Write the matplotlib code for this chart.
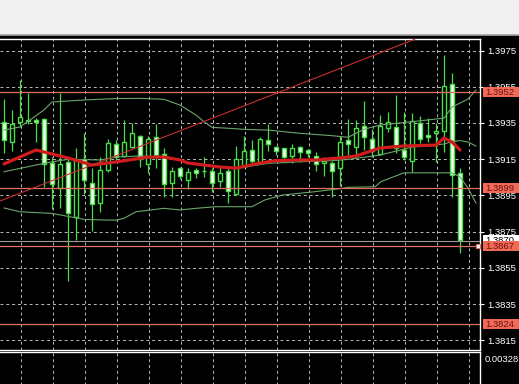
import matplotlib
matplotlib.use("Agg")
import matplotlib.pyplot as plt
import matplotlib.transforms as mtransforms
from matplotlib.patches import Rectangle
from matplotlib.lines import Line2D
import numpy as np

# candle data (oldest -> newest)
opens = [1.39357, 1.39247, 1.39354, 1.39366, 1.39364, 1.39372, 1.39131, 1.38989, 1.39135, 1.38833,
         1.39149, 1.39020, 1.38910, 1.39090, 1.39234, 1.39169, 1.39216, 1.39280, 1.39123, 1.39271,
         1.39179, 1.39020, 1.39100, 1.39035, 1.39090, 1.39086, 1.39086, 1.39031, 1.39085, 1.38958,
         1.39109, 1.39201, 1.39133, 1.39256, 1.39219, 1.39210, 1.39169, 1.39219, 1.39201, 1.39169,
         1.39127, 1.39131, 1.39100, 1.39256, 1.39216, 1.39333, 1.39260, 1.39179, 1.39321, 1.39329,
         1.39201, 1.39142, 1.39351, 1.39284, 1.39293, 1.39307, 1.39563, 1.39072]
highs = [1.39481, 1.39422, 1.39587, 1.39517, 1.39376, 1.39377, 1.39164, 1.39517, 1.39164, 1.39210,
         1.39293, 1.39100, 1.39160, 1.39260, 1.39256, 1.39366, 1.39348, 1.39284, 1.39278, 1.39343,
         1.39210, 1.39105, 1.39109, 1.39100, 1.39100, 1.39160, 1.39100, 1.39109, 1.39105, 1.39223,
         1.39280, 1.39256, 1.39271, 1.39344, 1.39223, 1.39212, 1.39232, 1.39223, 1.39204, 1.39191,
         1.39160, 1.39142, 1.39278, 1.39370, 1.39366, 1.39473, 1.39315, 1.39394, 1.39412, 1.39504,
         1.39412, 1.39403, 1.39388, 1.39379, 1.39348, 1.39725, 1.39624, 1.39100]
lows = [1.39183, 1.39197, 1.39326, 1.39344, 1.39243, 1.38998, 1.38873, 1.38879, 1.38478, 1.38704,
        1.38958, 1.38755, 1.38860, 1.39081, 1.39146, 1.39164, 1.39210, 1.39109, 1.39072, 1.39100,
        1.38940, 1.38940, 1.39039, 1.38984, 1.39045, 1.39050, 1.38971, 1.38998, 1.38910, 1.38952,
        1.39105, 1.39123, 1.39131, 1.39197, 1.39173, 1.39159, 1.39131, 1.39136, 1.39164, 1.39086,
        1.39059, 1.38940, 1.39002, 1.39173, 1.39155, 1.39201, 1.39160, 1.39173, 1.39302, 1.39183,
        1.39146, 1.39081, 1.39238, 1.39247, 1.39136, 1.39191, 1.38943, 1.38631]
closes = [1.39256, 1.39343, 1.39381, 1.39363, 1.39357, 1.39123, 1.39011, 1.39123, 1.38851, 1.39146,
          1.39035, 1.38903, 1.39090, 1.39241, 1.39160, 1.39247, 1.39293, 1.39151, 1.39261, 1.39173,
          1.39013, 1.39086, 1.39059, 1.39081, 1.39072, 1.39085, 1.39020, 1.39072, 1.38976, 1.39151,
          1.39195, 1.39142, 1.39261, 1.39232, 1.39197, 1.39160, 1.39213, 1.39191, 1.39183, 1.39123,
          1.39142, 1.39086, 1.39243, 1.39232, 1.39321, 1.39271, 1.39195, 1.39335, 1.39354, 1.39210,
          1.39160, 1.39362, 1.39260, 1.39271, 1.39307, 1.39554, 1.39063, 1.38704]

# moving average (thick red), read at bar indices
ma_bar = [0, 4, 8, 11, 14, 18, 20, 22, 23, 25, 27, 29, 32, 34, 37, 39, 42, 44, 47, 50, 54, 55, 56, 57]
ma_val = [1.39124, 1.39201, 1.39157, 1.39118, 1.39135, 1.39162, 1.39162, 1.39146, 1.39129, 1.39118,
          1.39107, 1.39101, 1.39129, 1.39142, 1.39146, 1.39146, 1.39157, 1.39168, 1.39212, 1.39223,
          1.39228, 1.39267, 1.39245, 1.39201]

# bollinger bands (thin green), read at bar indices
up_bar = [0, 2, 5, 6, 10, 14, 17, 20, 22, 24, 25, 26, 28, 30, 33, 37, 41, 43, 45, 47, 51, 55, 56, 57, 58, 59]
up_val = [1.39311, 1.39328, 1.39422, 1.39466, 1.39477, 1.39485, 1.39486, 1.39481, 1.39449, 1.39394,
          1.39357, 1.39326, 1.39321, 1.39315, 1.39311, 1.39293, 1.39280, 1.39271, 1.39315, 1.39339,
          1.39357, 1.39377, 1.39438, 1.39460, 1.39482, 1.39532]
mid_bar = [0, 4, 6, 8, 12, 14, 17, 20, 21, 24, 26, 28, 29, 33, 37, 41, 43, 47, 51, 55, 56, 57, 58, 59]
mid_val = [1.39081, 1.39118, 1.39136, 1.39149, 1.39146, 1.39162, 1.39168, 1.39162, 1.39155, 1.39124,
           1.39112, 1.39100, 1.39100, 1.39127, 1.39136, 1.39142, 1.39149, 1.39173, 1.39217, 1.39234,
           1.39248, 1.39253, 1.39245, 1.39223]
lo_bar = [0, 2, 6, 10, 13, 14, 15, 16.5, 20, 22, 24, 26.5, 29, 31, 32.6, 34.75, 38.9, 42.25, 43, 46.4,
          47.1, 50, 56, 57, 58, 59]
lo_val = [1.38881, 1.38860, 1.38851, 1.38818, 1.38814, 1.38814, 1.38824, 1.38860, 1.38879, 1.38870,
          1.38879, 1.38888, 1.38888, 1.38888, 1.38925, 1.38952, 1.38971, 1.38989, 1.38995, 1.38998,
          1.39026, 1.39075, 1.39075, 1.39053, 1.38991, 1.38908]

# trend line (thin red) anchors
trend_bar = [0, 50]
trend_val = [1.38928, 1.39789]

# horizontal levels and price scale
levels = [1.3952, 1.3899, 1.3867, 1.3824]
level_labels = ["1.3952", "1.3899", "1.3867", "1.3824"]
bid = 1.3870
bid_label = "1.3870"
price_ticks = [1.3975, 1.3955, 1.3935, 1.3915, 1.3895, 1.3875, 1.3855, 1.3835, 1.3815]
price_tick_labels = ["1.3975", "1.3955", "1.3935", "1.3915", "1.3895", "1.3875", "1.3855", "1.3835", "1.3815"]
sub_label = "0.00328"


def main() -> None:
    plt.rcParams["font.family"] = ["Liberation Sans", "DejaVu Sans"]
    W, H = 519, 384
    fig = plt.figure(figsize=(W / 100, H / 100), dpi=100, facecolor="black")

    # gray window strip on top
    fig.patches.append(Rectangle((0, 1 - 35 / H), 1, 35 / H, transform=fig.transFigure,
                                 facecolor="#f0f0f0", edgecolor="none", zorder=0))
    fig.lines.append(Line2D([0, 1], [1 - 35.3 / H] * 2, transform=fig.transFigure,
                            color="#a4a4a4", lw=1.2))

    right = 480 / W
    ax = fig.add_axes([0, 1 - 350 / H, right, (350 - 39.3) / H])
    sub = fig.add_axes([0, -0.02, right, 1 - 352.3 / H + 0.02])

    vgrid = np.arange(2.09, 59.5, 4)
    xlim = (-0.5, 59.5)
    grid_kw = dict(color="#bcbcbc", linestyle=(0, (3, 3)), linewidth=0.7)

    for a in (ax, sub):
        a.set_facecolor("black")
        a.set_xlim(*xlim)
        a.set_xticks(vgrid)
        a.tick_params(axis="x", length=0, labelbottom=False)
        a.spines["left"].set_visible(False)
        for s in ("top", "right", "bottom"):
            a.spines[s].set_color("white")
            a.spines[s].set_linewidth(1.0)
        a.set_axisbelow(True)
        a.grid(True, **grid_kw)

    sub.spines["bottom"].set_visible(False)
    sub.set_yticks([])
    sub.set_ylim(0, 1)

    ax.set_ylim(1.38097, 1.39812)
    ax.set_yticks(price_ticks)
    ax.set_yticklabels(price_tick_labels)
    ax.yaxis.tick_right()
    ax.tick_params(axis="y", colors="white", length=3, width=0.8, pad=2, labelsize=6.8)

    idx = np.arange(len(opens))
    o = np.array(opens)
    c = np.array(closes)
    bull = c >= o
    green = "#46e046"

    ax.vlines(idx, lows, highs, color=green, lw=0.9, zorder=2)
    ax.bar(idx, np.abs(c - o), bottom=np.minimum(o, c), width=0.62,
           color=np.where(bull, "black", "#f2fff2"), edgecolor=green, linewidth=1.0, zorder=3)

    band_col = "#6aa66a"
    ax.plot(up_bar, up_val, color=band_col, lw=0.8, zorder=4)
    ax.plot(mid_bar, mid_val, color=band_col, lw=0.8, zorder=4)
    ax.plot(lo_bar, lo_val, color=band_col, lw=0.8, zorder=4)
    ax.plot(ma_bar, ma_val, color="#d01c1c", lw=2.3, zorder=5, solid_capstyle="round")
    ax.axline((trend_bar[0], trend_val[0]), (trend_bar[1], trend_val[1]),
              color="#c83030", lw=0.8, zorder=5)

    ax.axhline(bid, color="#9c9c9c", lw=0.8, zorder=4)
    for lv in levels:
        ax.axhline(lv, color="#e0705e", lw=0.9, zorder=4)
    ax.plot([59.3], [levels[2]], marker="s", ms=3.2, mfc="white", mec="#e0705e", mew=0.8,
            zorder=6, clip_on=False)

    # price boxes on the scale
    trans = mtransforms.blended_transform_factory(fig.transFigure, ax.transData)
    box_h = 0.00057
    x0 = 482.5 / W

    def price_box(y, text, face, tcol, z):
        ax.add_artist(Rectangle((x0, y - box_h / 2), 1 - x0, box_h, transform=trans,
                                facecolor=face, edgecolor="none", zorder=z, clip_on=False))
        ax.text(485 / W, y, text, transform=trans, ha="left", va="center", fontsize=6.8,
                color=tcol, zorder=z + 0.5, clip_on=False)

    price_box(bid + 0.00002, bid_label, "white", "black", 10)
    for i, (lv, lb) in enumerate(zip(levels, level_labels)):
        price_box(lv, lb, "#f06a55", "#6a1010", 12 + i)

    fig.text(485 / W, 1 - 360 / H, sub_label, color="white", fontsize=6.8, ha="left", va="center")

    fig.savefig("out.png", dpi=100, facecolor=fig.get_facecolor())


if __name__ == "__main__":
    main()
